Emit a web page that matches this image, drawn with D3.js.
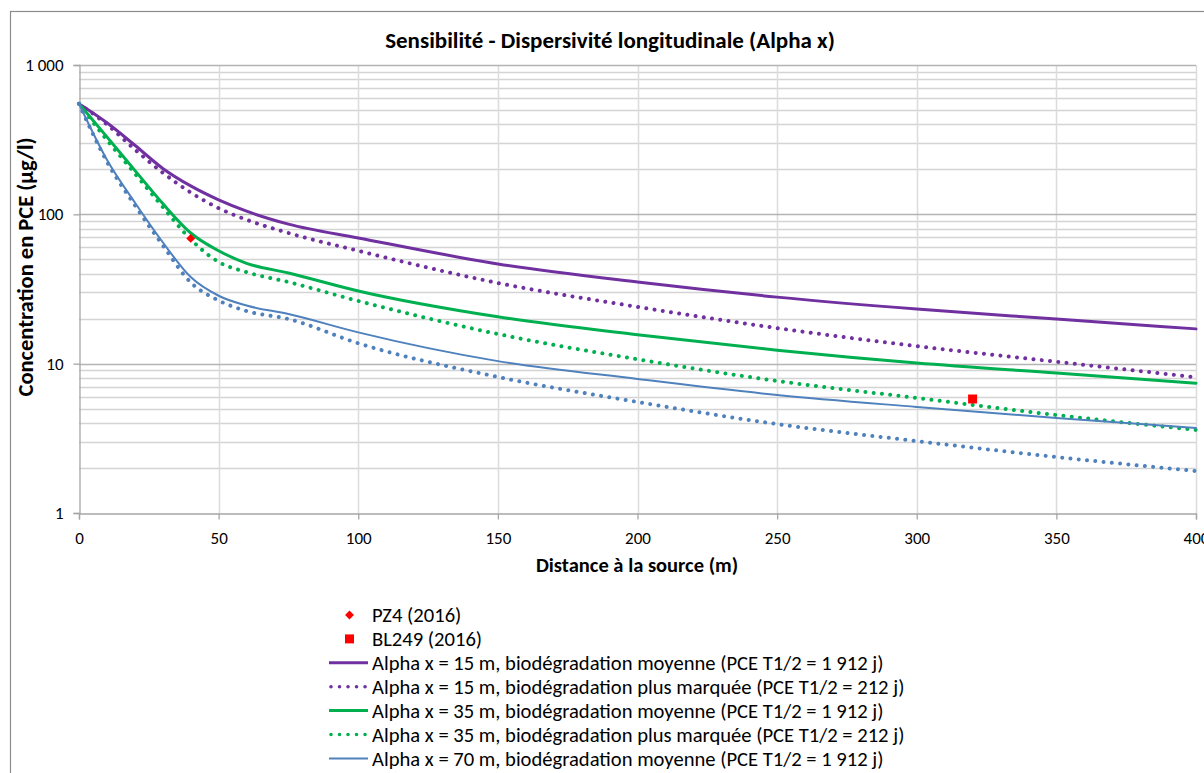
<!DOCTYPE html>
<html>
<head>
<meta charset="utf-8">
<script src="https://cdn.jsdelivr.net/npm/d3@7"></script>
<style>
  body { margin: 0; background: #fff; }
  svg { display: block; font-family: Carlito, Calibri, Lato, sans-serif; }
</style>
</head>
<body>
<div id="chart"></div>
<script>
// values
var distance = [0, 10, 20, 30, 40, 50, 60, 75, 100, 150, 200, 250, 300, 350, 400];
var alpha15Moy = [550, 410, 290, 203, 155, 125, 105, 86, 69.5, 46.5, 35.2, 27.9, 23.2, 19.9, 17.1];
var alpha15Plus = [550, 400, 272, 190, 140, 110, 92, 75, 57, 34.7, 24, 17.3, 13.1, 10.3, 8.1];
var alpha35Moy = [550, 330, 197, 118, 75, 57, 47, 40.5, 30.7, 20.6, 15.6, 12.3, 10.1, 8.65, 7.4];
var alpha35Plus = [550, 315, 188, 112, 68, 48, 41, 35.2, 26.3, 15.8, 10.7, 7.66, 5.89, 4.53, 3.6];
var alpha70Moy = [550, 232, 120, 65, 38, 28.5, 24.5, 21.5, 16.2, 10.4, 7.9, 6.17, 5.13, 4.33, 3.71];
var alpha70Plus = [550, 225, 115, 62, 35, 26.5, 22.5, 19.9, 13.7, 8.15, 5.54, 3.94, 3.03, 2.37, 1.91];

var measures = [
  {name: "PZ4 (2016)", x: 40, y: 69, shape: "diamond"},
  {name: "BL249 (2016)", x: 320, y: 5.8, shape: "square"}
];

var seriesNames = [
  "Alpha x = 15 m, biodégradation moyenne (PCE T1/2 = 1 912 j)",
  "Alpha x = 15 m, biodégradation plus marquée (PCE T1/2 = 212 j)",
  "Alpha x = 35 m, biodégradation moyenne (PCE T1/2 = 1 912 j)",
  "Alpha x = 35 m, biodégradation plus marquée (PCE T1/2 = 212 j)",
  "Alpha x = 70 m, biodégradation moyenne (PCE T1/2 = 1 912 j)",
  "Alpha x = 70 m, biodégradation plus marquée (PCE T1/2 = 212 j)"
];
var seriesValues = [alpha15Moy, alpha15Plus, alpha35Moy, alpha35Plus, alpha70Moy, alpha70Plus];

var xTicks = [0, 50, 100, 150, 200, 250, 300, 350, 400];
var yTicks = [1, 10, 100, 1000];
var yTickLabels = ["1", "10", "100", "1 000"];

// styles per series
var styles = [
  {color: "#7030a0", width: 3, dotted: false},
  {color: "#7030a0", width: 4, dotted: true},
  {color: "#00b050", width: 3, dotted: false},
  {color: "#00b050", width: 4, dotted: true},
  {color: "#4f81bd", width: 2, dotted: false},
  {color: "#4f81bd", width: 4, dotted: true}
];

var width = 1204, height = 773;
var margin = {left: 79, right: 8, top: 65, bottom: 260};

var svg = d3.select("#chart").append("svg")
  .attr("width", width)
  .attr("height", height);

// outer chart border (runs off the right and bottom edges)
svg.append("rect")
  .attr("x", 10.5).attr("y", 11.5)
  .attr("width", 1300).attr("height", 900)
  .attr("fill", "none")
  .attr("stroke", "#8c8c8c")
  .attr("stroke-width", 1.2);

var x = d3.scaleLinear()
  .domain([0, 400])
  .range([margin.left, width - margin.right]);

var y = d3.scaleLog()
  .domain([1, 1000])
  .range([height - margin.bottom, margin.top]);

// minor horizontal grid: 2..9 of each decade
var minorVals = [];
[1, 10, 100].forEach(function(d) {
  for (var k = 2; k <= 9; k++) minorVals.push(d * k);
});

svg.append("g").selectAll("line")
  .data(minorVals)
  .enter().append("line")
  .attr("x1", x(0)).attr("x2", x(400))
  .attr("y1", function(d) { return Math.round(y(d)) + 0.5; })
  .attr("y2", function(d) { return Math.round(y(d)) + 0.5; })
  .attr("stroke", "#d4d4d4")
  .attr("stroke-width", 1.6);

// vertical grid
svg.append("g").selectAll("line")
  .data(xTicks.slice(1))
  .enter().append("line")
  .attr("x1", function(d) { return Math.round(x(d)) + 0.5; })
  .attr("x2", function(d) { return Math.round(x(d)) + 0.5; })
  .attr("y1", y(1000)).attr("y2", y(1))
  .attr("stroke", "#dcdcdc")
  .attr("stroke-width", 1.5);

// major horizontal grid
svg.append("g").selectAll("line")
  .data(yTicks.slice(1))
  .enter().append("line")
  .attr("x1", x(0)).attr("x2", x(400))
  .attr("y1", function(d) { return Math.round(y(d)) + 0.5; })
  .attr("y2", function(d) { return Math.round(y(d)) + 0.5; })
  .attr("stroke", "#b4b4b4")
  .attr("stroke-width", 1.4);

// axes
var yAxis = d3.axisLeft(y)
  .tickValues(yTicks)
  .tickFormat(function(d, i) { return yTickLabels[i]; })
  .tickSize(6)
  .tickPadding(10);

var xAxis = d3.axisBottom(x)
  .tickValues(xTicks)
  .tickSize(6)
  .tickPadding(12);

var gy = svg.append("g")
  .attr("transform", "translate(" + (x(0) + 0.5) + ",0)")
  .call(yAxis);

var gx = svg.append("g")
  .attr("transform", "translate(0," + (y(1) + 0.5) + ")")
  .call(xAxis);

[gx, gy].forEach(function(g) {
  g.select(".domain").attr("stroke", "#a6a6a6").attr("stroke-width", 1.3);
  g.selectAll(".tick line").attr("stroke", "#a6a6a6").attr("stroke-width", 1.3);
  g.selectAll(".tick text")
    .attr("fill", "#000")
    .style("font-size", "17px")
    .style("font-family", "Carlito, Calibri, Lato, sans-serif");
});

// series lines
var line = d3.line()
  .x(function(d) { return x(d[0]); })
  .y(function(d) { return y(d[1]); })
  .curve(d3.curveMonotoneX);

var plot = svg.append("g");

seriesValues.forEach(function(vals, i) {
  var pts = distance.map(function(d, j) { return [d, vals[j]]; });
  var st = styles[i];
  plot.append("path")
    .datum(pts)
    .attr("d", line)
    .attr("fill", "none")
    .attr("stroke", st.color)
    .attr("stroke-width", st.width)
    .attr("stroke-linecap", "round")
    .attr("stroke-dasharray", st.dotted ? "0.01,8.3" : null);
});

function drawMarker(g, shape, cx, cy) {
  if (shape === "diamond") {
    g.append("path")
      .attr("d", d3.symbol().type(d3.symbolDiamond2).size(50)())
      .attr("transform", "translate(" + cx + "," + cy + ")")
      .attr("fill", "#ff0000");
  } else {
    g.append("rect")
      .attr("x", cx - 4.5).attr("y", cy - 4.5)
      .attr("width", 9).attr("height", 9)
      .attr("fill", "#ff0000");
  }
}

measures.forEach(function(m) {
  drawMarker(plot, m.shape, x(m.x), y(m.y));
});

// titles
svg.append("text")
  .attr("x", 610).attr("y", 48)
  .attr("text-anchor", "middle")
  .style("font-size", "23px")
  .style("font-weight", "bold")
  .text("Sensibilité - Dispersivité longitudinale (Alpha x)");

svg.append("text")
  .attr("x", 637).attr("y", 572)
  .attr("text-anchor", "middle")
  .style("font-size", "20.5px")
  .style("font-weight", "bold")
  .text("Distance à la source (m)");

svg.append("text")
  .attr("transform", "translate(33,267) rotate(-90)")
  .attr("text-anchor", "middle")
  .style("font-size", "22.5px")
  .style("font-weight", "bold")
  .text("Concentration en PCE (µg/l)");

// legend
var legend = svg.append("g");
var rowY = 615, rowH = 23.9;

measures.forEach(function(m, i) {
  var cy = rowY + i * rowH;
  drawMarker(legend, m.shape, 349.5, cy);
  legend.append("text")
    .attr("x", 372).attr("y", cy)
    .attr("dy", "0.35em")
    .style("font-size", "20.6px")
    .text(m.name);
});

seriesNames.forEach(function(name, i) {
  var cy = rowY + (i + 2) * rowH;
  var st = styles[i];
  legend.append("line")
    .attr("x1", st.dotted ? 331 : 329).attr("x2", 368)
    .attr("y1", cy).attr("y2", cy)
    .attr("stroke", st.color)
    .attr("stroke-width", st.dotted ? 3.6 : st.width)
    .attr("stroke-linecap", st.dotted ? "round" : "butt")
    .attr("stroke-dasharray", st.dotted ? "0.01,8.5" : null);
  legend.append("text")
    .attr("x", 372).attr("y", cy)
    .attr("dy", "0.35em")
    .style("font-size", "20.6px")
    .text(name);
});
</script>
</body>
</html>
